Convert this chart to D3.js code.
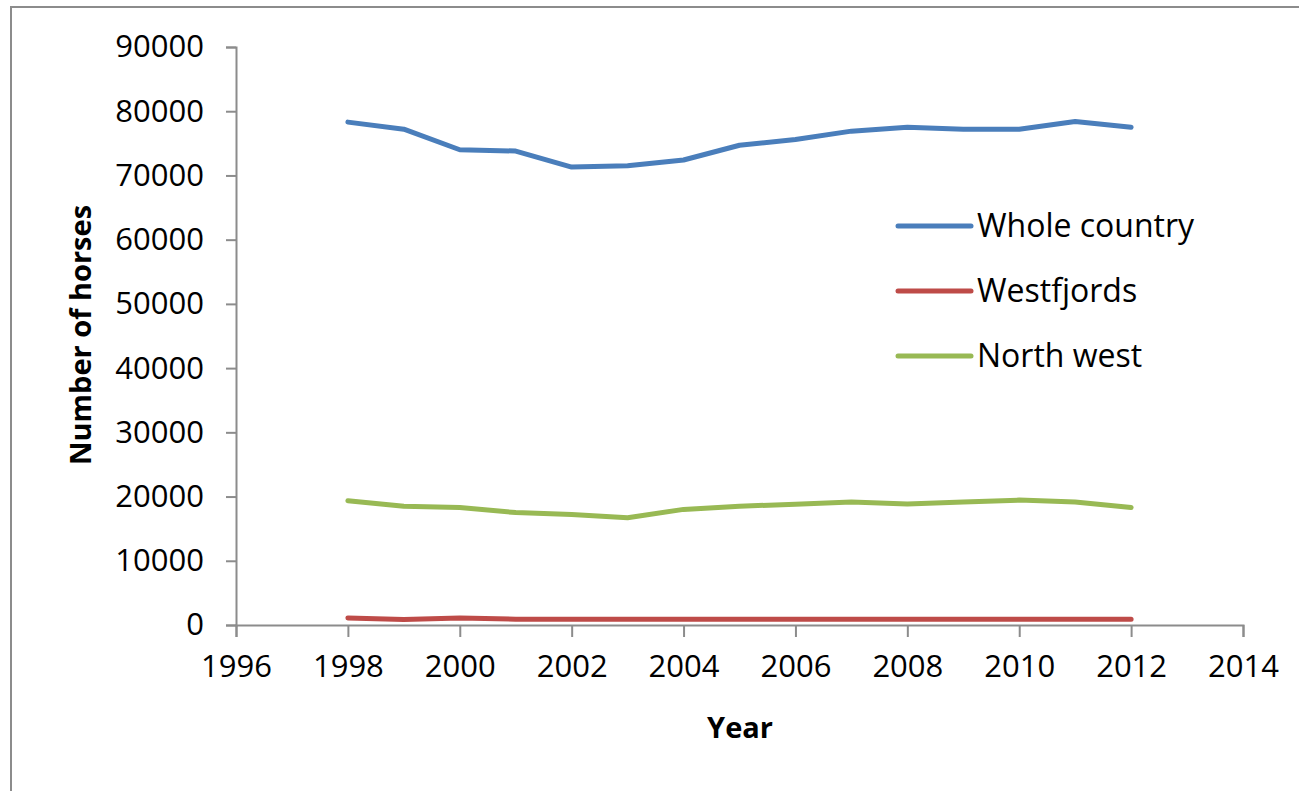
<!DOCTYPE html>
<html>
<head>
<meta charset="utf-8">
<script src="https://cdn.jsdelivr.net/npm/d3@7"></script>
<style>
  body { margin: 0; background: #fff; }
  svg { font-family: "Open Sans", Lato, sans-serif; }
</style>
</head>
<body>
<svg id="chart"></svg>
<script>
const years = [1998, 1999, 2000, 2001, 2002, 2003, 2004, 2005, 2006, 2007, 2008, 2009, 2010, 2011, 2012];
const wholeCountry = [78300, 77200, 74000, 73800, 71300, 71500, 72400, 74700, 75600, 76900, 77500, 77200, 77200, 78400, 77500];
const westfjords = [1100, 850, 1100, 900, 900, 900, 900, 900, 900, 900, 900, 900, 900, 900, 900];
const northWest = [19350, 18500, 18300, 17500, 17200, 16700, 18000, 18500, 18800, 19150, 18850, 19150, 19450, 19150, 18300];
const seriesNames = ["Whole country", "Westfjords", "North west"];
const seriesColors = ["#4a7ebb", "#be4b48", "#98b954"];
const xTicks = [1996, 1998, 2000, 2002, 2004, 2006, 2008, 2010, 2012, 2014];
const yTicks = [0, 10000, 20000, 30000, 40000, 50000, 60000, 70000, 80000, 90000];

const W = 1299, H = 791;
const margin = {top: 47, right: 56, bottom: 166, left: 236};
const width = W - margin.left - margin.right;
const height = H - margin.top - margin.bottom;

const root = d3.select("#chart").attr("width", W).attr("height", H);

// outer frame (only left/top visible in the picture)
root.append("rect")
  .attr("x", 11).attr("y", 7)
  .attr("width", W).attr("height", H)
  .attr("fill", "none")
  .attr("stroke", "#8c8c8c")
  .attr("stroke-width", 2);

const svg = root.append("g")
  .attr("transform", "translate(" + margin.left + "," + margin.top + ")");

const x = d3.scaleLinear().domain([1996, 2014]).range([0, width]);
const y = d3.scaleLinear().domain([0, 90000]).range([height, 0]);

const axisColor = "#8c8c8c";

// Y axis
const yAxis = svg.append("g")
  .call(d3.axisLeft(y).tickValues(yTicks).tickSize(10).tickPadding(22).tickFormat(d3.format("d")));
// X axis
const xAxis = svg.append("g")
  .attr("transform", "translate(0," + height + ")")
  .call(d3.axisBottom(x).tickValues(xTicks).tickSize(12).tickPadding(13).tickFormat(d3.format("d")));

[yAxis, xAxis].forEach(a => {
  a.select(".domain").attr("stroke", axisColor).attr("stroke-width", 2);
  a.selectAll(".tick line").attr("stroke", axisColor).attr("stroke-width", 2);
  a.selectAll(".tick text")
    .attr("fill", "#000")
    .style("font-size", "31px")
    .style("font-family", "'Open Sans', Lato, sans-serif");
});
xAxis.selectAll(".tick text").attr("dy", "0.88em");

const allSeries = [wholeCountry, westfjords, northWest];

const line = d3.line()
  .x((d, i) => x(years[i]))
  .y(d => y(d));

allSeries.forEach((vals, k) => {
  svg.append("path")
    .datum(vals)
    .attr("d", line)
    .attr("fill", "none")
    .attr("stroke", seriesColors[k])
    .attr("stroke-width", 5)
    .attr("stroke-linecap", "round")
    .attr("stroke-linejoin", "round");
});

// legend
const legend = root.append("g").attr("transform", "translate(898,226)");
seriesNames.forEach((name, k) => {
  const g = legend.append("g").attr("transform", "translate(0," + (k * 65) + ")");
  g.append("line")
    .attr("x1", 0).attr("x2", 73)
    .attr("y1", 0).attr("y2", 0)
    .attr("stroke", seriesColors[k])
    .attr("stroke-width", 5)
    .attr("stroke-linecap", "round");
  g.append("text")
    .attr("x", 79).attr("y", 0)
    .attr("dy", "0.35em")
    .style("font-size", "32px")
    .text(name);
});

// axis titles
root.append("text")
  .attr("x", 740).attr("y", 738)
  .attr("text-anchor", "middle")
  .style("font-size", "29px")
  .style("font-weight", "bold")
  .text("Year");

root.append("text")
  .attr("transform", "translate(91,335) rotate(-90)")
  .attr("text-anchor", "middle")
  .style("font-size", "29px")
  .style("font-weight", "bold")
  .text("Number of horses");
</script>
</body>
</html>
